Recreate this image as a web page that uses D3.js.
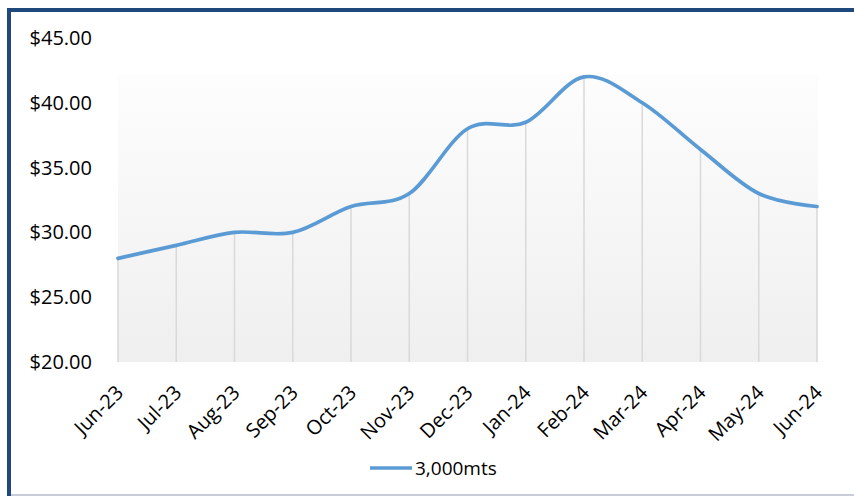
<!DOCTYPE html>
<html><head><meta charset="utf-8">
<script src="https://cdn.jsdelivr.net/npm/d3@7"></script>
<style>body{margin:0;background:#fff}svg{display:block}</style>
</head><body>
<svg id="c" width="854" height="496"></svg>
<script>
const categories = ["Jun-23","Jul-23","Aug-23","Sep-23","Oct-23","Nov-23","Dec-23","Jan-24","Feb-24","Mar-24","Apr-24","May-24","Jun-24"];
const values = [28, 29, 30, 30, 32, 33, 38, 38.5, 42, 40, 36.4, 33, 32];
const yTicks = [20, 25, 30, 35, 40, 45];
const seriesName = "3,000mts";

(function(){
const svg = d3.select("#c");
const FONT = "'Open Sans', 'Noto Sans', sans-serif";
const pLeft = 118, pRight = 817, pTop = 38, pBottom = 362;
const x = d3.scalePoint().domain(categories).range([pLeft, pRight]);
const y = d3.scaleLinear().domain([20, 45]).range([pBottom, pTop]);

// gradient background
const defs = svg.append("defs");
const g = defs.append("linearGradient").attr("id","bg").attr("x1",0).attr("y1",0).attr("x2",0).attr("y2",1);
g.append("stop").attr("offset","0%").attr("stop-color","#fdfdfd");
g.append("stop").attr("offset","100%").attr("stop-color","#efefef");
svg.append("rect").attr("x", pLeft).attr("y", 75).attr("width", pRight - pLeft + 1).attr("height", pBottom - 75)
  .attr("fill","url(#bg)");

// drop lines
svg.append("g").selectAll("line").data(values).join("line")
  .attr("x1",(d,i)=>x(categories[i])).attr("x2",(d,i)=>x(categories[i]))
  .attr("y1",d=>y(d)).attr("y2",pBottom)
  .attr("stroke","#d9d9d9").attr("stroke-width",1.5);

// line
const line = d3.line().x((d,i)=>x(categories[i])).y(d=>y(d)).curve(d3.curveCardinal.tension(0));
svg.append("path").datum(values).attr("d",line).attr("fill","none")
  .attr("stroke","#5b9bd5").attr("stroke-width",3.7).attr("stroke-linecap","round").attr("stroke-linejoin","round");

// y axis
const ya = svg.append("g").attr("transform",`translate(${pLeft},0)`)
  .call(d3.axisLeft(y).tickValues(yTicks).tickFormat(d3.format("$.2f")).tickSize(0).tickPadding(26));
ya.select(".domain").remove();
ya.selectAll("text").attr("font-family",FONT).attr("font-size",20).attr("fill","#000");

// x axis
const xa = svg.append("g").attr("transform",`translate(0,${pBottom})`)
  .call(d3.axisBottom(x).tickSize(0).tickPadding(0));
xa.select(".domain").remove();
xa.selectAll("text").attr("font-family",FONT).attr("font-size",20).attr("fill","#000")
  .attr("text-anchor","end").attr("dy",0).attr("y",0)
  .attr("transform","translate(6,32) rotate(-45)");

// legend
const lg = svg.append("g");
lg.append("line").attr("x1",370).attr("x2",412).attr("y1",468).attr("y2",468)
  .attr("stroke","#5b9bd5").attr("stroke-width",3.5);
lg.append("text").attr("x",415).attr("y",475).text(seriesName)
  .attr("font-family",FONT).attr("font-size",19).attr("fill","#000");

// border
svg.append("line").attr("x1",11).attr("x2",854).attr("y1",495).attr("y2",495).attr("stroke","#c8ccd6").attr("stroke-width",2);
svg.append("line").attr("x1",9).attr("x2",9).attr("y1",8).attr("y2",496).attr("stroke","#1f497d").attr("stroke-width",4);
svg.append("line").attr("x1",7).attr("x2",854).attr("y1",10).attr("y2",10).attr("stroke","#1f497d").attr("stroke-width",4);
})();
</script>
</body></html>
